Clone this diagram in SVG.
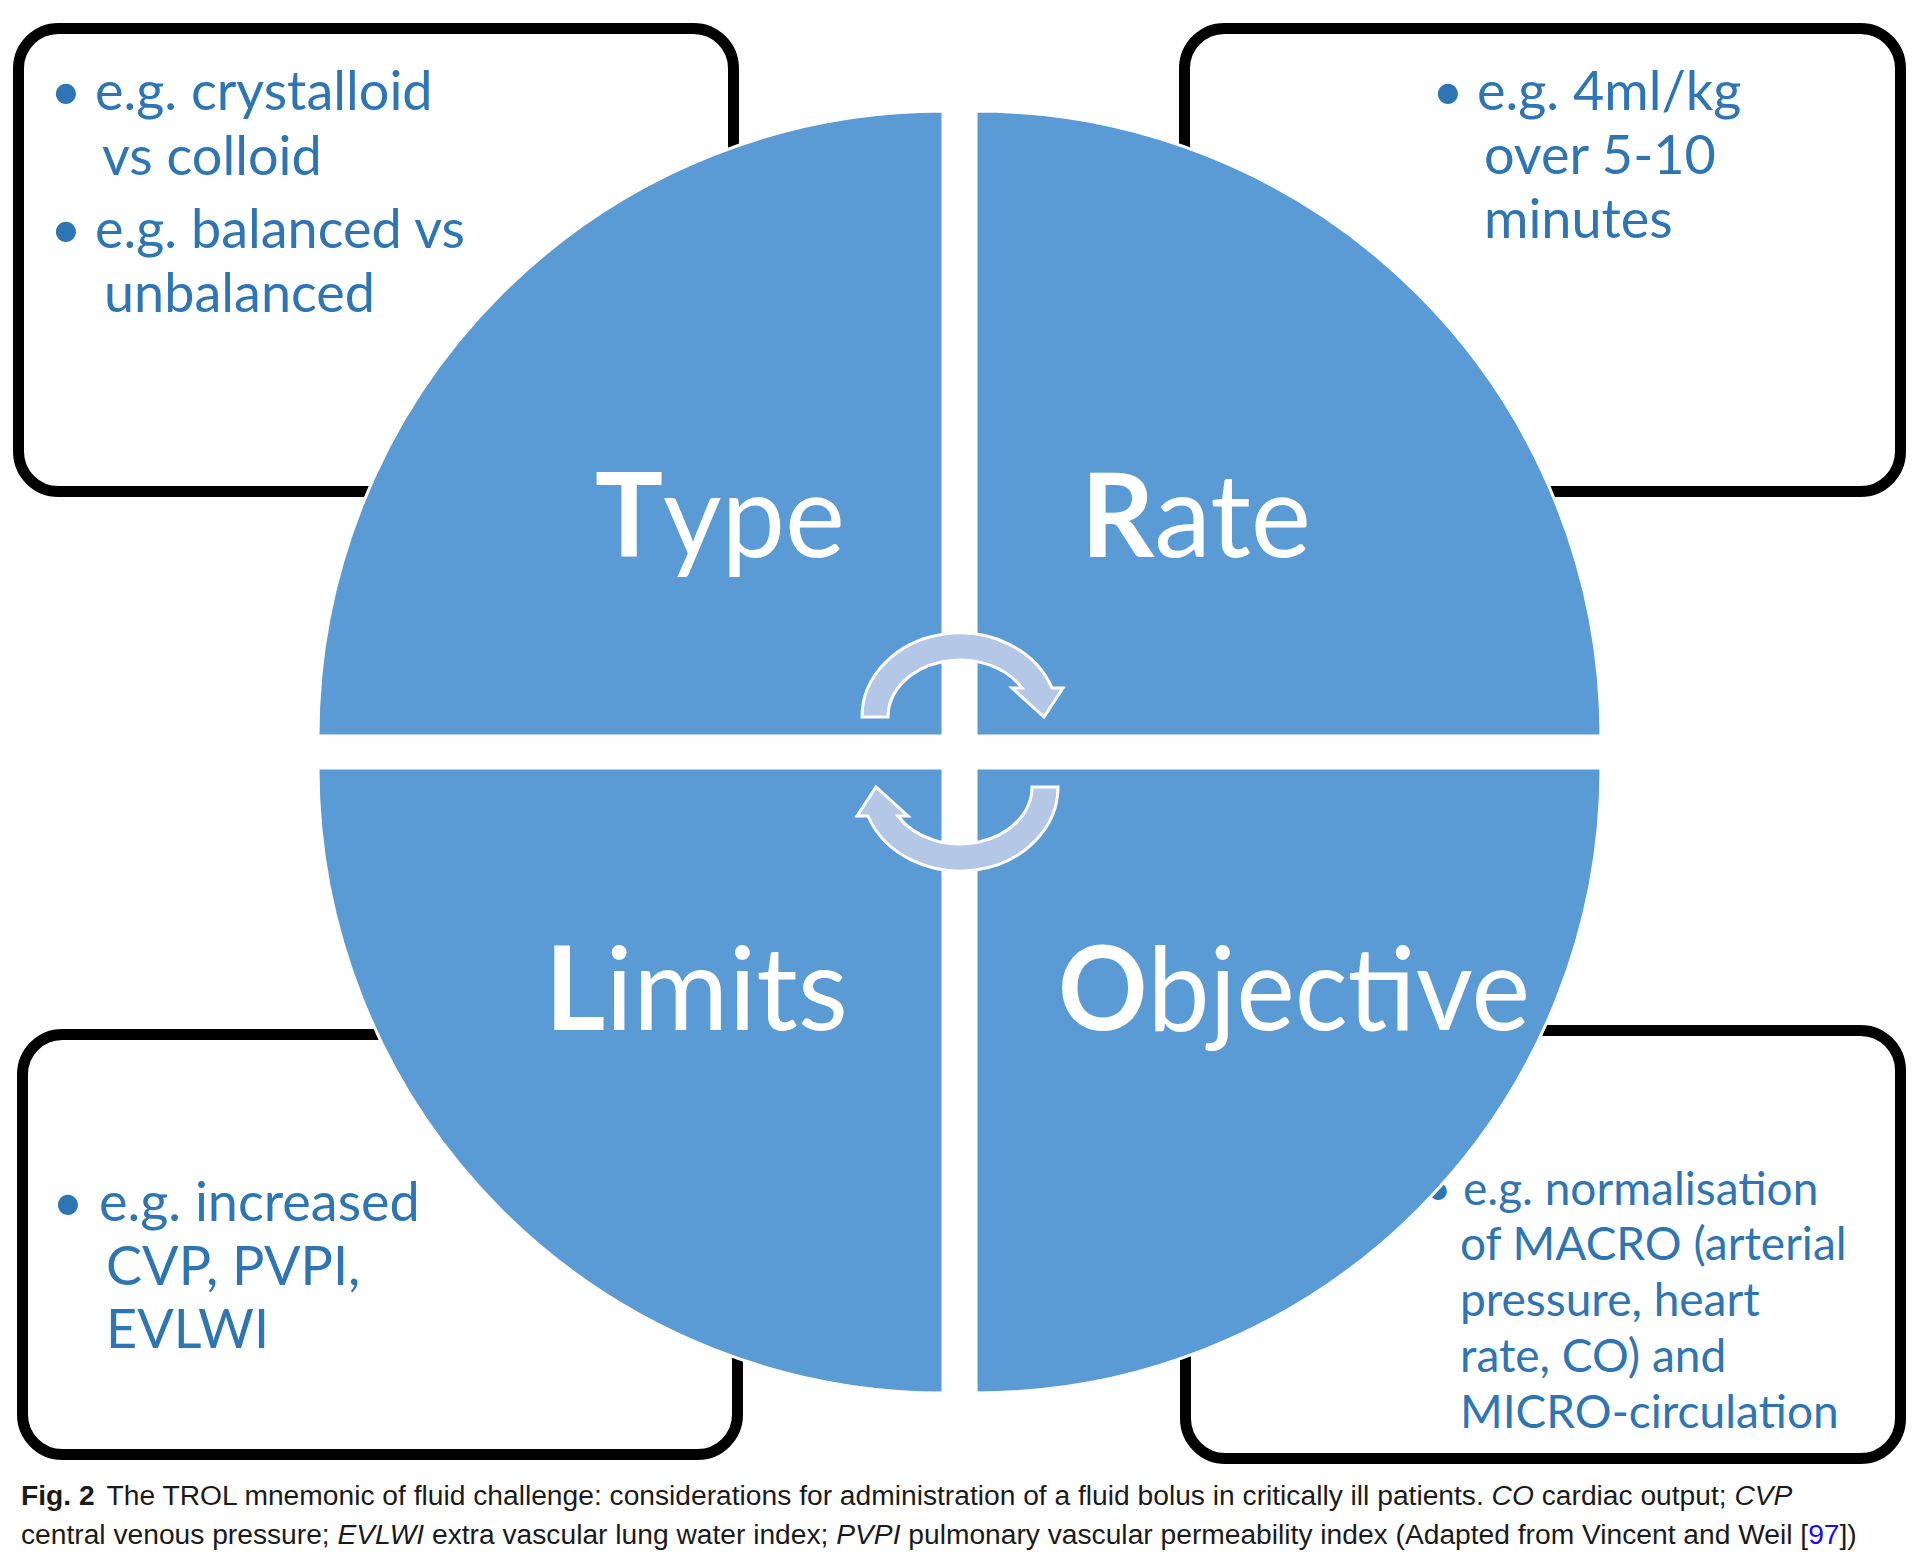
<svg xmlns="http://www.w3.org/2000/svg" width="1920" height="1564" viewBox="0 0 1920 1564">
<style>
.box{fill:#fff;stroke:#000;stroke-width:11}
.bt{font-family:Lato,"Liberation Sans",sans-serif;font-size:54px;fill:#2E75B6}
.bt2{font-family:Lato,"Liberation Sans",sans-serif;font-size:46px;fill:#2E75B6}
.q{fill:#5B9BD5;stroke:#fff;stroke-width:3}
.lbl{font-family:Lato,"Liberation Sans",sans-serif;font-size:117px;fill:#fff}
.b{font-weight:700}
.arr{fill:#B4C7E7;stroke:#fff;stroke-width:3;stroke-linejoin:miter}
.cap{font-family:"Liberation Sans",Arial,sans-serif;font-size:28.2px;fill:#1a1a1a}
</style>
<rect width="1920" height="1564" fill="#fff"/>
<g id="box-type">
<rect class="box" x="18.5" y="28.5" width="715" height="463" rx="40"/>
<text class="bt" x="66" y="110" text-anchor="middle">•</text>
<text class="bt" x="95" y="110">e.g. crystalloid</text>
<text class="bt" x="102" y="175">vs colloid</text>
<text class="bt" x="66" y="248" text-anchor="middle">•</text>
<text class="bt" x="95" y="248">e.g. balanced vs</text>
<text class="bt" x="104" y="312">unbalanced</text>
</g>
<g id="box-rate">
<rect class="box" x="1184.5" y="28.5" width="716" height="463" rx="40"/>
<text class="bt" x="1448" y="110" text-anchor="middle">•</text>
<text class="bt" x="1477" y="110">e.g. 4ml/kg</text>
<text class="bt" x="1484" y="174">over 5-10</text>
<text class="bt" x="1484" y="238">minutes</text>
</g>
<g id="box-limits">
<rect class="box" x="22.5" y="1034.5" width="715" height="420" rx="40"/>
<text class="bt" x="68" y="1221" text-anchor="middle">•</text>
<text class="bt" x="99" y="1221">e.g. increased</text>
<text class="bt" x="106" y="1285">CVP, PVPI,</text>
<text class="bt" x="106" y="1348">EVLWI</text>
</g>
<g id="box-objective">
<rect class="box" x="1185.5" y="1030.5" width="715" height="428" rx="40"/>
<text class="bt2" x="1438" y="1205" text-anchor="middle">•</text>
<text class="bt2" x="1463" y="1205">e.g. normalisation</text>
<text class="bt2" x="1460" y="1260">of MACRO (arterial</text>
<text class="bt2" x="1460" y="1316">pressure, heart</text>
<text class="bt2" x="1460" y="1372">rate, CO) and</text>
<text class="bt2" x="1460" y="1428">MICRO-circulation</text>
</g>
<g id="quadrant-type">
<path class="q" d="M943,736 L318,736 A625,625 0 0 1 943,111 Z"/>
<text class="lbl" x="595" y="557" textLength="250" lengthAdjust="spacingAndGlyphs"><tspan class="b">T</tspan>ype</text>
</g>
<g id="quadrant-rate">
<path class="q" d="M976,736 L976,111 A625,625 0 0 1 1601,736 Z"/>
<text class="lbl" x="1081" y="557" textLength="230" lengthAdjust="spacingAndGlyphs"><tspan class="b">R</tspan>ate</text>
</g>
<g id="quadrant-limits">
<path class="q" d="M943,768 L943,1393 A625,625 0 0 1 318,768 Z"/>
<text class="lbl" x="545" y="1030" textLength="303" lengthAdjust="spacingAndGlyphs"><tspan class="b">L</tspan>imits</text>
</g>
<g id="quadrant-objective">
<path class="q" d="M976,768 L1601,768 A625,625 0 0 1 976,1393 Z"/>
<text class="lbl" x="1058" y="1030" textLength="472" lengthAdjust="spacingAndGlyphs"><tspan class="b">O</tspan>bjective</text>
</g>
<g id="connectors">
<path id="arrow-top" class="arr" d="M862,717 A98,84 0 0 1 1052,688 L1063,688 L1044,717 L1012,688 L1022,688 A72,57 0 0 0 888,717 Z"/>
<path id="arrow-bottom" class="arr" d="M862,717 A98,84 0 0 1 1052,688 L1063,688 L1044,717 L1012,688 L1022,688 A72,57 0 0 0 888,717 Z" transform="rotate(180 960 752)"/>
</g>
<g id="caption">
<text class="cap" x="21" y="1505"><tspan font-weight="700">Fig. 2</tspan><tspan dx="12">The TROL mnemonic of fluid challenge: considerations for administration of a fluid bolus in critically ill patients. </tspan><tspan font-style="italic">CO</tspan> cardiac output; <tspan font-style="italic">CVP</tspan></text>
<text class="cap" x="21" y="1544">central venous pressure; <tspan font-style="italic">EVLWI</tspan> extra vascular lung water index; <tspan font-style="italic">PVPI</tspan> pulmonary vascular permeability index (Adapted from Vincent and Weil [<tspan fill="#1a0dff">97</tspan>])</text>
</g>
</svg>
